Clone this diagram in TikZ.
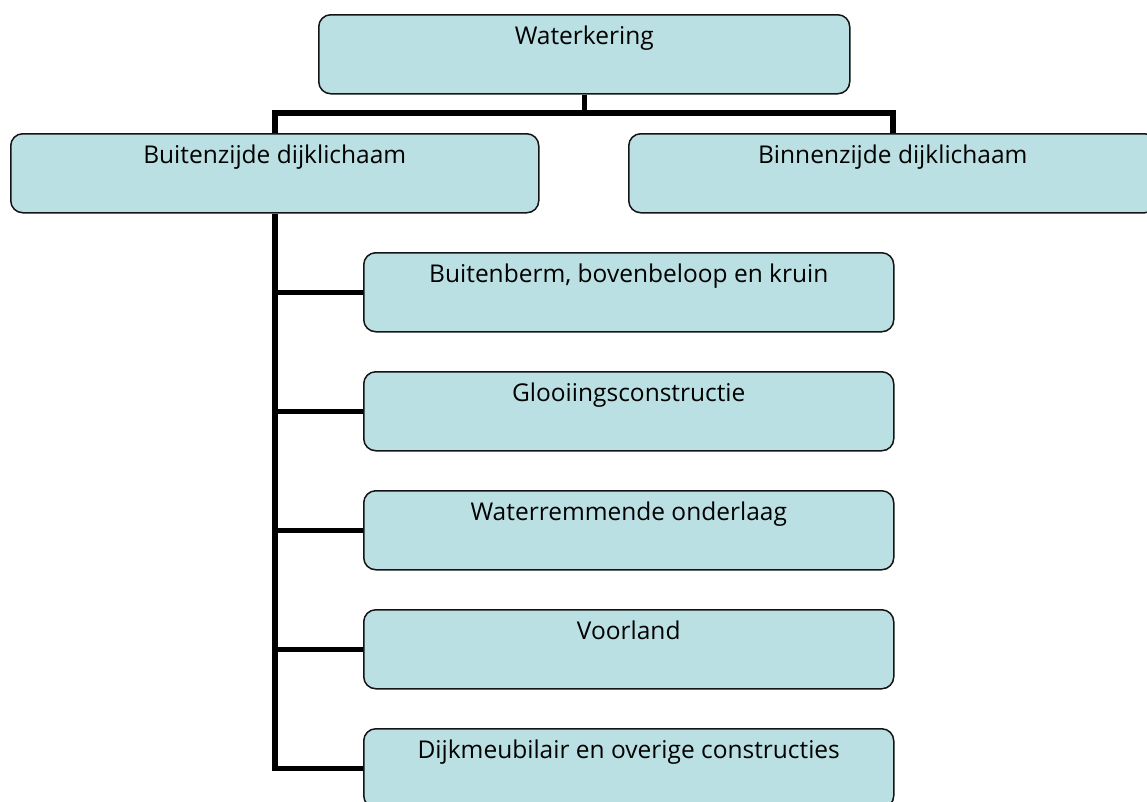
\documentclass[tikz,border=0pt]{standalone}
\usepackage{fontspec}
\setmainfont{Open Sans}
\definecolor{boxfill}{RGB}{187,224,227}
\definecolor{boxline}{RGB}{20,20,20}
\begin{document}
\begin{tikzpicture}[x=1pt,y=-1pt,
  box/.style={draw=boxline, line width=1.5pt, fill=boxfill, rounded corners=12pt,
    anchor=north west, inner xsep=0pt, inner ysep=0pt, text height=30pt, text depth=49pt,
    font=\fontsize{24.5}{28}\selectfont, text=black},
  conn/.style={line width=5.5pt, black, line join=miter}]
\useasboundingbox (0,0) rectangle (1147,801);
\clip (0,0) rectangle (1147,801);
\node[box, minimum width=531pt] (water) at (318,14) {Waterkering};
\node[box, minimum width=528pt] (buiten) at (10,133) {Buitenzijde dijklichaam};
\node[box, minimum width=528pt] (binnen) at (628,133) {Binnenzijde dijklichaam};
\node[box, minimum width=530pt] (c1) at (363,252) {Buitenberm, bovenbeloop en kruin};
\node[box, minimum width=530pt] (c2) at (363,371) {Glooiingsconstructie};
\node[box, minimum width=530pt] (c3) at (363,490) {Waterremmende onderlaag};
\node[box, minimum width=530pt] (c4) at (363,609) {Voorland};
\node[box, minimum width=530pt] (c5) at (363,728) {Dijkmeubilair en overige constructies};
\coordinate (hub) at (water.south |- 0,113);
\draw[conn] (water.south) -- (hub);
\draw[conn] (buiten.north) |- (hub) -| (binnen.north);
\draw[conn] (buiten.south) |- (c5.west);
\draw[conn] (c1.west) -- (c1.west -| buiten.south);
\draw[conn] (c2.west) -- (c2.west -| buiten.south);
\draw[conn] (c3.west) -- (c3.west -| buiten.south);
\draw[conn] (c4.west) -- (c4.west -| buiten.south);
\end{tikzpicture}
\end{document}
